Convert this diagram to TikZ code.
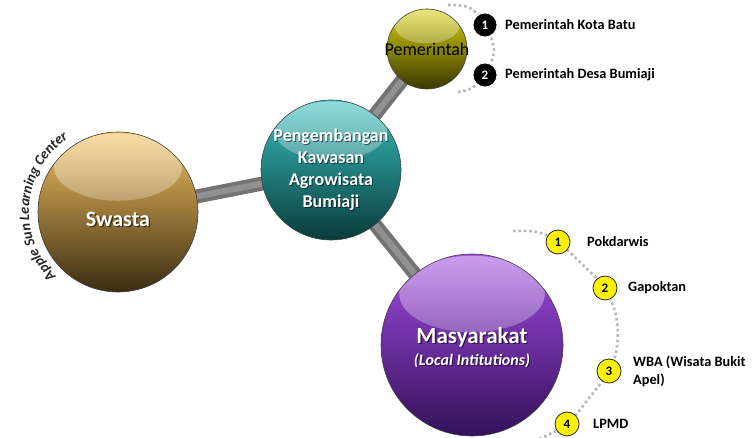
\documentclass[tikz,border=0pt]{standalone}
\usepackage{fontspec}
\setmainfont{Carlito}
\usetikzlibrary{fadings,backgrounds,calc,decorations.text,shadings}
\definecolor{swA}{HTML}{F5C260}\definecolor{swB}{HTML}{C29240}\definecolor{swC}{HTML}{3A2C12}
\definecolor{ceA}{HTML}{38C0C0}\definecolor{ceB}{HTML}{1B8A88}\definecolor{ceC}{HTML}{093B3A}
\definecolor{peA}{HTML}{D8D010}\definecolor{peB}{HTML}{A09A00}\definecolor{peC}{HTML}{3A3800}
\definecolor{maA}{HTML}{A04CE2}\definecolor{maB}{HTML}{7430AC}\definecolor{maC}{HTML}{34105A}
\tikzfading[name=glare, top color=transparent!0, bottom color=transparent!100]
\begin{document}
\begin{tikzpicture}[x=1pt,y=1pt,
  sphere/.style n args={4}{circle, inner sep=0pt, minimum size=2*#1, draw=black!75, line width=0.6pt,
    top color=#2, middle color=#3, bottom color=#4,
    path picture={\fill[white, fill opacity=0.45, path fading=glare]
      ($(path picture bounding box.center)+(0,0.56*#1)$) ellipse [x radius=0.80*#1, y radius=0.42*#1];}},
  bar/.style={line width=14pt, draw=black!55},
  barhi/.style={line width=6pt, draw=black!43},
  dots/.style={draw=black!28, line width=2.6pt, dash pattern=on 2.6pt off 2.8pt},
  bnum/.style={circle, fill=black, draw=white, line width=0.8pt, text=white, minimum size=24pt, inner sep=0pt, font=\bfseries\fontsize{13}{13}\selectfont},
  ynum/.style={circle, fill=yellow, draw=black!85, line width=0.8pt, text=black, minimum size=24pt, inner sep=0pt, font=\bfseries\fontsize{13}{13}\selectfont},
  lbl/.style={anchor=west, inner sep=0pt, align=left, font=\bfseries\fontsize{14.3}{18}\selectfont},
  wtxt/.style={text=white, align=center, inner sep=0pt},
  stxt/.style={text=black, opacity=0.55, align=center, inner sep=0pt},
]
\useasboundingbox (0,0) rectangle (754,438);

% spheres
\node[sphere={80}{swA}{swB}{swC}] (swasta) at (118,226) {};
\node[sphere={70}{ceA}{ceB}{ceC}] (central) at (331,268) {};
\node[sphere={40}{peA}{peB}{peC}] (pem) at (427,389) {};
\node[sphere={91}{maA}{maB}{maC}] (mas) at (472,93) {};

% sphere texts (with shadow)
\node[stxt, font=\bfseries\fontsize{22}{26}\selectfont] (swastaS) at (119.3,217.7) {Swasta};
\node[wtxt, font=\bfseries\fontsize{22}{26}\selectfont] (swastaT) at (118,219) {Swasta};
\node[stxt, font=\bfseries\fontsize{18}{22}\selectfont] (centralS) at (332,267) {Pengembangan\\Kawasan\\Agrowisata\\Bumiaji};
\node[wtxt, font=\bfseries\fontsize{18}{22}\selectfont] (centralT) at (331,268) {Pengembangan\\Kawasan\\Agrowisata\\Bumiaji};
\node[inner sep=0pt, text=black, font=\fontsize{18}{20}\selectfont] (pemT) at (427,389) {Pemerintah};
\node[stxt, font=\bfseries\fontsize{23}{26}\selectfont] (masS) at (473.3,99.7) {Masyarakat};
\node[wtxt, font=\bfseries\fontsize{23}{26}\selectfont] (masT) at (472,101) {Masyarakat};
\node[stxt, font=\bfseries\itshape\fontsize{16}{18}\selectfont] (masS2) at (473,76) {(Local Intitutions)};
\node[wtxt, font=\bfseries\itshape\fontsize{16}{18}\selectfont] (masT2) at (472,77) {(Local Intitutions)};

% curved text
\path[decorate, decoration={text along path, text align=center,
  text={|\fontsize{14.5}{16}\selectfont\bfseries\itshape\color{black!85}|Apple Sun Learning Center}}]
  ($(swasta.center)+(236:89)$) arc[start angle=236, end angle=114, radius=89];

% number circles
\node[bnum] (p1) at (485,413) {1};
\node[bnum] (p2) at (485,363) {2};
\node[lbl] (p1L) at (505,413) {Pemerintah Kota Batu};
\node[lbl] (p2L) at (505,363) {Pemerintah Desa Bumiaji};

\node[ynum] (m1) at (558,196) {1};
\node[ynum] (m2) at (605,150) {2};
\node[ynum] (m3) at (609,67) {3};
\node[ynum] (m4) at (567,14) {4};
\node[lbl] (m1L) at (587,196) {Pokdarwis};
\node[lbl] (m2L) at (628,150) {Gapoktan};
\node[lbl] (m3L) at (633,67) {WBA (Wisata Bukit\\Apel)};
\node[lbl] (m4L) at (593,14) {LPMD};

\coordinate (pa) at (448,433);
\coordinate (pb) at (458,346);
\coordinate (ma) at (513,207);
\coordinate (mb) at (535,-3);

\begin{pgfonlayer}{background}
  \fill[white] (0,0) rectangle (754,438);
  \draw[bar] (central.center) -- (swasta.center);
  \draw[bar] (central.center) -- (pem.center);
  \draw[bar] (central.center) -- (mas.center);
  \draw[barhi] (central.center) -- (swasta.center);
  \draw[barhi] (central.center) -- (pem.center);
  \draw[barhi] (central.center) -- (mas.center);
  \draw[dots] plot[smooth, tension=0.6] coordinates {(pa) (470,430) (p1) (493,394) (493,381) (p2) (472,350) (pb)};
  \draw[dots] plot[smooth, tension=0.6] coordinates {(ma) (537,206) (m1) (588,168) (m2) (616,122) (617,92) (m3) (589,40) (m4) (mb)};
\end{pgfonlayer}
\end{tikzpicture}
\end{document}
